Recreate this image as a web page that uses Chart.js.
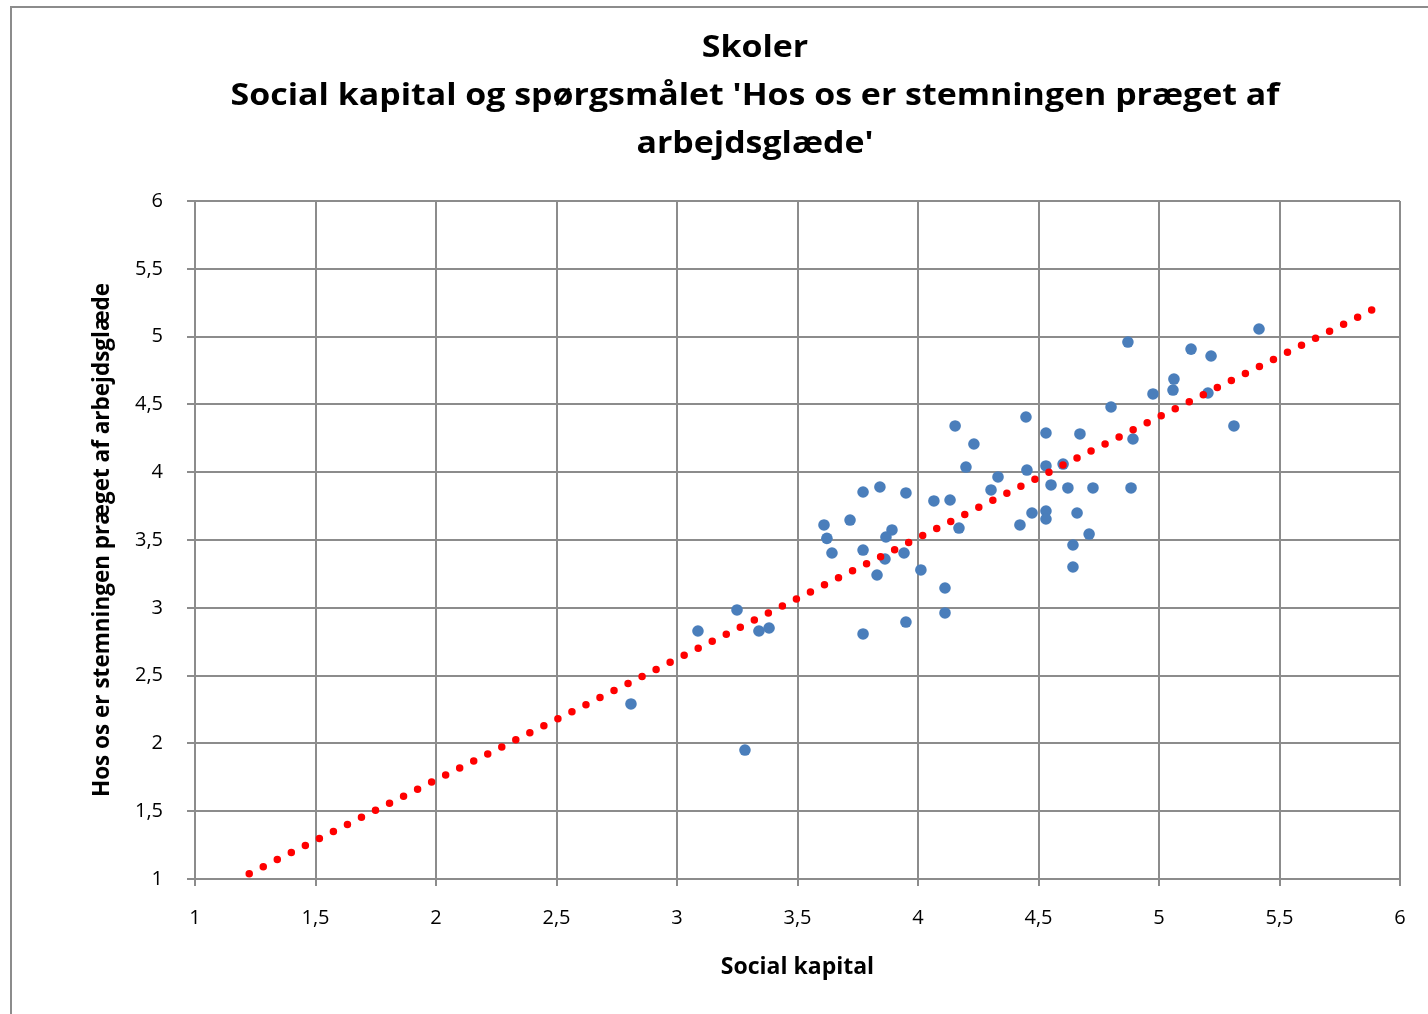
<!DOCTYPE html>
<html>
<head>
<meta charset="utf-8">
<script src="https://cdn.jsdelivr.net/npm/chart.js@4.4.1/dist/chart.umd.min.js"></script>
<style>
  body { margin: 0; background: #fff; overflow: hidden; }
  #frame { position: absolute; left: 10px; top: 6px; width: 1490px; height: 1030px; border: 2px solid #8c8c8c; box-sizing: border-box; }
  #chart { display: block; }
</style>
</head>
<body>
<div id="frame"><canvas id="chart" width="1486" height="1020"></canvas></div>
<script>
// Skoler: social kapital (x) mod 'Hos os er stemningen præget af arbejdsglæde' (y)
const socialKapital = [
  5.415, 4.871, 5.133, 5.216, 5.062, 5.058, 4.975, 5.203, 4.801, 4.448,
  4.154, 5.311, 4.531, 4.672, 4.892, 4.232, 4.199, 4.452, 4.531, 4.602,
  4.332, 4.303, 4.552, 4.622, 4.726, 4.884, 3.772, 3.842, 3.950, 4.066,
  4.133, 4.473, 4.531, 4.531, 4.660, 4.423, 4.170, 3.718, 3.610, 3.892,
  3.867, 4.710, 3.622, 3.643, 3.772, 3.942, 3.863, 4.643, 4.012, 3.830,
  4.643, 4.112, 3.249, 4.112, 3.950, 3.087, 3.340, 3.382, 3.772, 2.809,
  3.282
];
const arbejdsglaede = [
  5.056, 4.960, 4.908, 4.857, 4.687, 4.606, 4.577, 4.584, 4.481, 4.407,
  4.341, 4.341, 4.289, 4.282, 4.245, 4.208, 4.038, 4.016, 4.046, 4.060,
  3.965, 3.869, 3.906, 3.884, 3.884, 3.884, 3.854, 3.891, 3.847, 3.788,
  3.795, 3.699, 3.714, 3.655, 3.699, 3.611, 3.588, 3.647, 3.611, 3.574,
  3.522, 3.544, 3.512, 3.404, 3.426, 3.404, 3.360, 3.463, 3.279, 3.242,
  3.301, 3.146, 2.984, 2.962, 2.895, 2.829, 2.829, 2.851, 2.807, 2.291,
  1.951
];
// trendlinjens endepunkter (aflæst)
const trendX = [1.225, 5.883];
const trendY = [1.039, 5.196];

const titleLines = [
  'Skoler',
  "Social kapital og spørgsmålet 'Hos os er stemningen præget af",
  "arbejdsglæde'"
];
const xTitle = 'Social kapital';
const yTitle = 'Hos os er stemningen præget af arbejdsglæde';

const gridColor = '#8c8c8c';
const fmt = v => String(v).replace('.', ',');

// Excel-titlen er centreret over hele rammen, ikke over plotområdet,
// og originalen er strakt lidt i bredden
const frameTitle = {
  id: 'frameTitle',
  afterDraw(chart) {
    const ctx = chart.ctx;
    ctx.save();
    ctx.translate(743, 0);
    ctx.scale(1.13, 1);
    ctx.font = 'bold 30px "Open Sans"';
    ctx.fillStyle = '#000';
    ctx.textAlign = 'center';
    ctx.textBaseline = 'middle';
    titleLines.forEach((t, i) => ctx.fillText(t, 0, 40 + i * 48));
    ctx.restore();
  }
};

const points = socialKapital.map((x, i) => ({ x: x, y: arbejdsglaede[i] }));
const trend = trendX.map((x, i) => ({ x: x, y: trendY[i] }));

new Chart(document.getElementById('chart'), {
  type: 'scatter',
  data: {
    datasets: [
      {
        label: 'Skoler',
        data: points,
        order: 1,
        pointRadius: 5.8,
        pointBorderWidth: 0,
        pointBackgroundColor: '#4a7ebb',
        pointBorderColor: '#4a7ebb'
      },
      {
        label: 'Lineær',
        type: 'line',
        data: trend,
        order: 0,
        showLine: true,
        pointRadius: 0,
        borderColor: '#ff0000',
        borderWidth: 7.5,
        borderCapStyle: 'round',
        borderDash: [0, 15.7],
        fill: false
      }
    ]
  },
  options: {
    responsive: false,
    animation: false,
    layout: { padding: { left: 0, right: 98, top: 193, bottom: 29 } },
    plugins: {
      legend: { display: false },
      tooltip: { enabled: false }
    },
    scales: {
      x: {
        type: 'linear',
        min: 1,
        max: 6,
        afterFit: s => { s.height = 120; },
        ticks: {
          stepSize: 0.5,
          padding: 20,
          color: '#000',
          font: { family: 'Open Sans', size: 20 },
          callback: fmt
        },
        grid: { color: gridColor, lineWidth: 2, tickLength: 7 },
        border: { color: gridColor, width: 2 },
        title: {
          display: true,
          text: xTitle,
          color: '#000',
          font: { family: 'Open Sans', size: 23, weight: 'bold' },
          padding: { top: 0, bottom: 18 }
        }
      },
      y: {
        type: 'linear',
        min: 1,
        max: 6,
        afterFit: s => { s.width = 183; },
        ticks: {
          stepSize: 0.5,
          padding: 24,
          color: '#000',
          font: { family: 'Open Sans', size: 20 },
          callback: fmt
        },
        grid: { color: gridColor, lineWidth: 2, tickLength: 8 },
        border: { color: gridColor, width: 2 },
        title: {
          display: true,
          text: yTitle,
          color: '#000',
          font: { family: 'Open Sans', size: 22.5, weight: 'bold' },
          padding: { top: 77, bottom: 0 }
        }
      }
    }
  },
  plugins: [frameTitle]
});
</script>
</body>
</html>
